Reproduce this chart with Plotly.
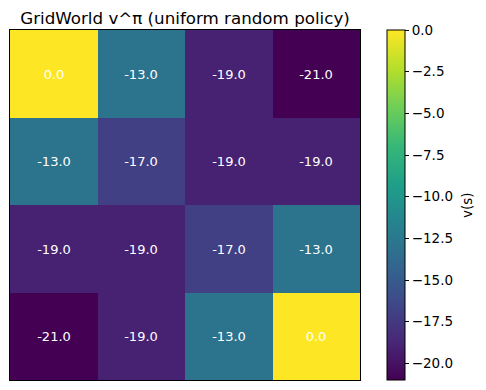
import plotly.graph_objects as go

values = [
    [0.0, -13.0, -19.0, -21.0],
    [-13.0, -17.0, -19.0, -19.0],
    [-19.0, -19.0, -17.0, -13.0],
    [-21.0, -19.0, -13.0, 0.0],
]
cols = [0, 1, 2, 3]
rows = [0, 1, 2, 3]
cbar_ticks = [0.0, -2.5, -5.0, -7.5, -10.0, -12.5, -15.0, -17.5, -20.0]
cbar_ticktext = [("%.1f" % t).replace("-", "\u2212") for t in cbar_ticks]
title = "GridWorld v^\u03c0 (uniform random policy)"
cbar_label = "v(s)"

text = [["%.1f" % v for v in r] for r in values]

# page has an 8px body margin; figure is sized so the plot lands where the reference has it
W, H = 478, 382
L, R, T, B = 2, 126, 22, 10
PW = W - L - R

fig = go.Figure(go.Heatmap(
    z=values, x=cols, y=rows,
    colorscale="Viridis", zmin=-21, zmax=0,
    text=text, texttemplate="%{text}",
    textfont=dict(color="white", size=13, family="DejaVu Sans"),
    colorbar=dict(
        x=(387 - 10) / PW, xanchor="left", xref="paper",
        y=0.5, yanchor="middle", len=1.0, lenmode="fraction",
        thickness=18, thicknessmode="pixels",
        outlinecolor="black", outlinewidth=1,
        tickvals=cbar_ticks, ticktext=cbar_ticktext,
        ticks="outside", ticklen=4, tickcolor="black",
        tickfont=dict(size=13.5, family="DejaVu Sans", color="black"),
        xpad=0, ypad=0,
    ),
    hoverinfo="skip",
))

fig.add_annotation(
    text=cbar_label, textangle=-90, xref="paper", yref="paper",
    x=(467 - 10) / PW, y=0.5, xanchor="center", yanchor="middle", showarrow=False,
    font=dict(size=13.5, family="DejaVu Sans", color="black"),
)

fig.update_layout(
    width=W, height=H,
    margin=dict(l=L, r=R, t=T, b=B, autoexpand=False),
    paper_bgcolor="white", plot_bgcolor="white",
    font=dict(family="DejaVu Sans", color="black"),
    title=dict(text=title, x=(185 - 8) / W, xanchor="center", y=1 - (18.5 - 8) / H, yanchor="middle",
               font=dict(size=16.7, family="DejaVu Sans", color="black")),
)
fig.update_xaxes(showticklabels=False, ticks="", showgrid=False, zeroline=False,
                 showline=True, linecolor="black", linewidth=1, mirror=True,
                 range=[-0.5, 3.5])
fig.update_yaxes(showticklabels=False, ticks="", showgrid=False, zeroline=False,
                 showline=True, linecolor="black", linewidth=1, mirror=True,
                 range=[3.5, -0.5])

fig.write_html("out.html")
